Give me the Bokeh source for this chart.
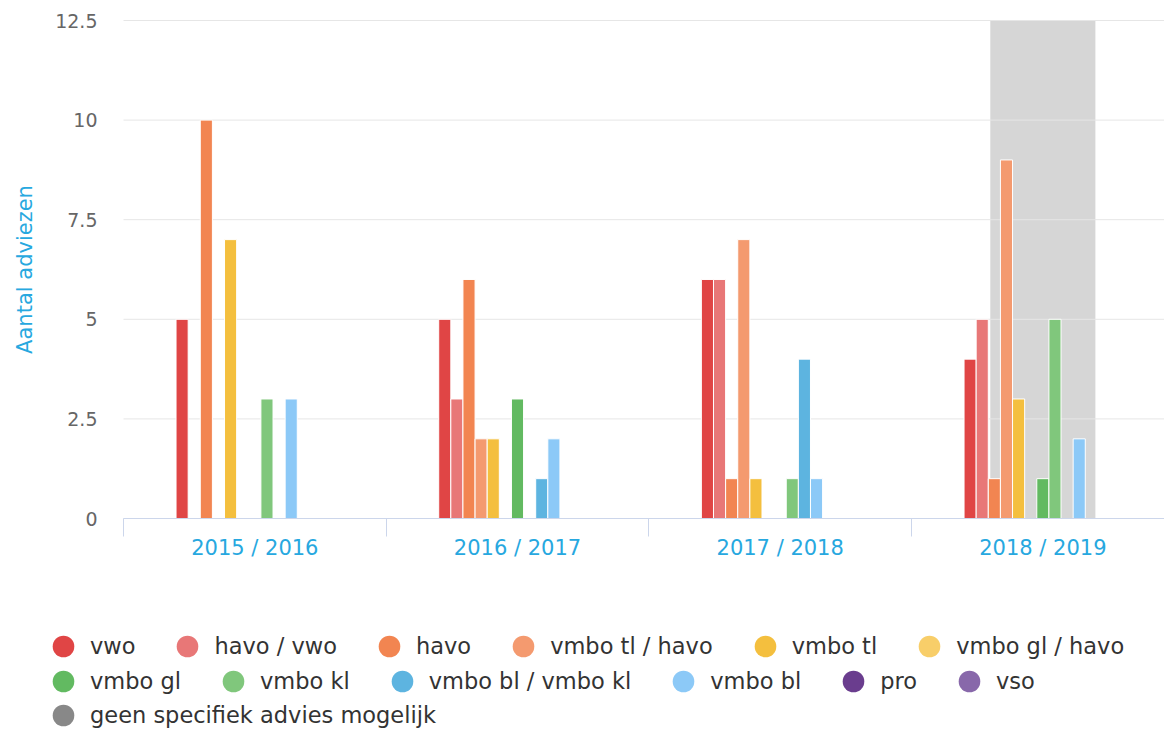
import math
from bokeh.plotting import figure
from bokeh.models import (FixedTicker, Legend, LegendItem, BoxAnnotation,
                          ColumnDataSource, Range1d, Label)
from bokeh.embed import file_html
from bokeh.resources import INLINE

# ---------------- data ----------------
years = ["2015 / 2016", "2016 / 2017", "2017 / 2018", "2018 / 2019"]
highlight_year = "2018 / 2019"

series_names = ["vwo", "havo / vwo", "havo", "vmbo tl / havo", "vmbo tl",
                "vmbo gl / havo", "vmbo gl", "vmbo kl", "vmbo bl / vmbo kl",
                "vmbo bl", "pro", "vso", "geen specifiek advies mogelijk"]
series_colors = ["#e04545", "#e87777", "#f28551", "#f49a6f", "#f4bf3e",
                 "#f8ce69", "#62ba61", "#80c77c", "#5db4e0", "#8cc9f7",
                 "#6a3d8e", "#8868aa", "#888888"]

vwo = [5, 5, 6, 4]
havo_vwo = [0, 3, 6, 5]
havo = [10, 6, 1, 1]
vmbo_tl_havo = [0, 2, 7, 9]
vmbo_tl = [7, 2, 1, 3]
vmbo_gl_havo = [0, 0, 0, 0]
vmbo_gl = [0, 3, 0, 1]
vmbo_kl = [3, 0, 1, 5]
vmbo_bl_kl = [0, 1, 4, 0]
vmbo_bl = [3, 2, 1, 2]
pro = [0, 0, 0, 0]
vso = [0, 0, 0, 0]
geen = [0, 0, 0, 0]
series_values = [vwo, havo_vwo, havo, vmbo_tl_havo, vmbo_tl, vmbo_gl_havo,
                 vmbo_gl, vmbo_kl, vmbo_bl_kl, vmbo_bl, pro, vso, geen]

y_ticks = [0, 2.5, 5, 7.5, 10, 12.5]
y_tick_labels = ["0", "2.5", "5", "7.5", "10", "12.5"]
y_title = "Aantal adviezen"

# ---------------- layout constants (pixels) ----------------
FONT = "DejaVu Sans"
BLUE = "#27a8df"
W, H = 1164, 729
PLOT_L, PLOT_T, PLOT_B = 123, 20, 518      # plot area edges
CAT_PX = 262.67                            # width of one category
Y_PX = (PLOT_B - PLOT_T) / (y_ticks[-1] - y_ticks[0])

x_lo = -0.5
x_start = x_lo - PLOT_L / CAT_PX
x_end = x_lo + (W - PLOT_L) / CAT_PX
y_start = y_ticks[0] - (H - PLOT_B) / Y_PX
y_end = y_ticks[-1] + PLOT_T / Y_PX

p = figure(width=W, height=H, output_backend="svg", toolbar_location=None,
           x_range=Range1d(x_start, x_end), y_range=Range1d(y_start, y_end),
           min_border=0, min_border_left=0, min_border_right=0,
           min_border_top=0, min_border_bottom=0, title=None)
p.outline_line_color = None
p.background_fill_color = "white"
p.border_fill_color = "white"
p.xgrid.visible = False
p.ygrid.visible = False

# highlighted band
hi = years.index(highlight_year)
band = BoxAnnotation(left=hi - 0.2, right=hi + 0.2, bottom=y_ticks[0], top=y_ticks[-1],
                     fill_color="#d6d6d6", fill_alpha=1.0, line_color=None,
                     level="image")
p.add_layout(band)

# horizontal grid lines at the y ticks
p.segment(x0=[x_lo] * len(y_ticks), x1=[x_end] * len(y_ticks),
          y0=y_ticks, y1=y_ticks, line_color="#e6e6e6", line_width=1)

# bars
n = len(series_names)
group_w = 0.6
slot = group_w / n
legend_renderers = {}
for k, (name, vals, col) in enumerate(zip(series_names, series_values, series_colors)):
    xs = [i - group_w / 2 + (k + 0.5) * slot for i, v in enumerate(vals) if v > 0]
    tops = [v for v in vals if v > 0]
    src = ColumnDataSource(dict(x=xs, top=tops))
    p.vbar(x="x", top="top", width=slot, bottom=0, source=src,
           fill_color=col, line_color="white", line_width=1)
    # legend swatch renderer (no visible points)
    legend_renderers[name] = p.scatter(x=[float("nan")], y=[float("nan")],
                                       marker="circle", size=20,
                                       fill_color=col, line_color=None)

# x axis at y = 0
xa = p.xaxis[0]
xa.fixed_location = 0
xa.bounds = (x_lo, x_end)
xa.ticker = FixedTicker(ticks=list(range(len(years))),
                        minor_ticks=[i - 0.5 for i in range(len(years) + 1)])
xa.major_label_overrides = {i: y for i, y in enumerate(years)}
xa.major_tick_out = 0
xa.major_tick_in = 0
xa.minor_tick_out = 18
xa.minor_tick_in = 0
xa.minor_tick_line_color = "#ccd6eb"
xa.axis_line_color = "#ccd6eb"
xa.major_label_standoff = -1
xa.major_label_text_font = FONT
xa.major_label_text_font_size = "21px"
xa.major_label_text_color = BLUE

# y axis at left edge of plot area
ya = p.yaxis[0]
ya.fixed_location = x_lo
ya.bounds = (y_ticks[0], y_ticks[-1])
ya.ticker = FixedTicker(ticks=y_ticks)
ya.major_label_overrides = {t: l for t, l in zip(y_ticks, y_tick_labels)}
ya.axis_line_color = None
ya.major_tick_out = 0
ya.major_tick_in = 0
ya.minor_tick_out = 0
ya.minor_tick_in = 0
ya.major_label_standoff = 26
ya.major_label_text_font = FONT
ya.major_label_text_font_size = "19px"
ya.major_label_text_color = "#666666"

# y axis title
p.add_layout(Label(x=24, y=(y_ticks[0] + y_ticks[-1]) / 2, x_units="screen",
                   y_units="data", text=y_title, angle=math.pi / 2,
                   text_align="center", text_baseline="middle",
                   text_font=FONT, text_font_size="21px", text_color=BLUE))

# legend: three rows
rows = [series_names[0:6], series_names[6:12], series_names[12:]]
row_centers = [646, 681, 715]
GLYPH = 54
for names, cy in zip(rows, row_centers):
    vy = H - (cy + GLYPH // 2)
    items = [LegendItem(label=nm, renderers=[legend_renderers[nm]]) for nm in names]
    leg = Legend(items=items, orientation="horizontal", location=(36, vy),
                 glyph_width=GLYPH, glyph_height=GLYPH, label_standoff=-2,
                 spacing=25, padding=0, margin=0, border_line_color=None,
                 background_fill_alpha=0, label_text_font=FONT,
                 label_text_font_size="22.5px", label_text_color="#333333")
    p.add_layout(leg, "center")

open("out.html", "w").write(file_html(p, INLINE))
